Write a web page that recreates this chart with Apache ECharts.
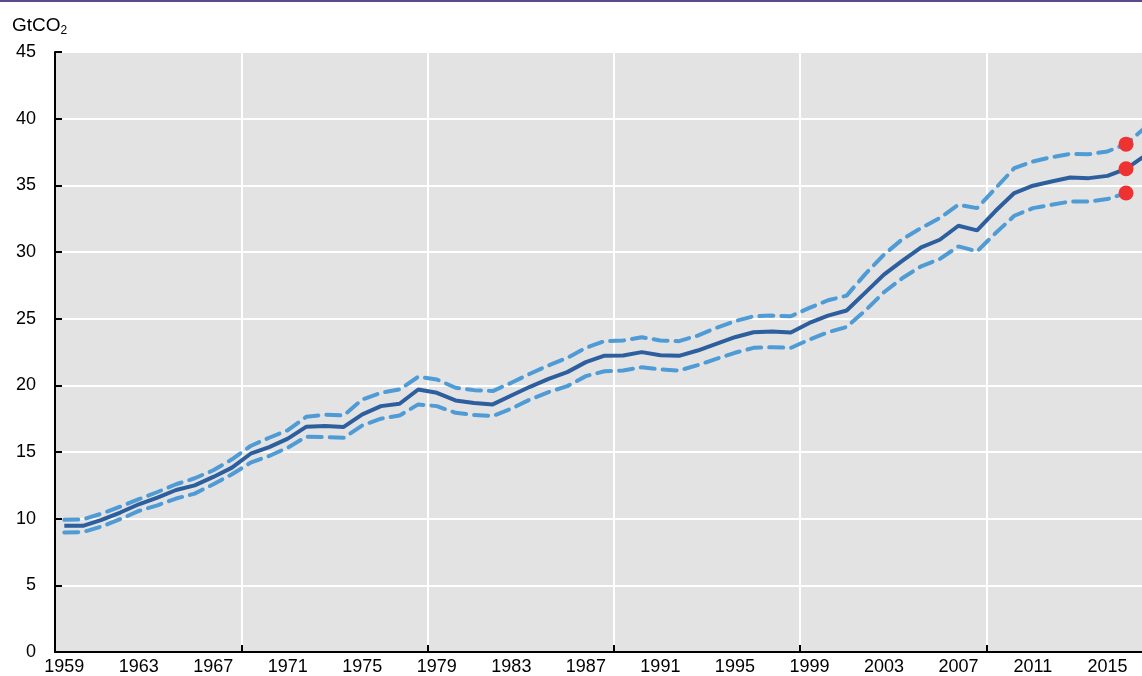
<!DOCTYPE html>
<html>
<head>
<meta charset="utf-8">
<script src="https://cdn.jsdelivr.net/npm/echarts@6/dist/echarts.min.js"></script>
<style>
html,body{margin:0;padding:0;background:#fff;overflow:hidden;width:1142px;height:676px;}
#chart{width:1160px;height:676px;}
</style>
</head>
<body>
<div id="chart"></div>
<script>
var years = [];
for (var y = 1959; y <= 2017; y++) years.push(String(y));

var central = [9.46, 9.46, 9.91, 10.46, 11.08, 11.58, 12.15, 12.5, 13.13, 13.83,
  14.87, 15.37, 16.0, 16.9, 16.95, 16.88, 17.82, 18.44, 18.62, 19.69,
  19.44, 18.87, 18.67, 18.57, 19.24, 19.89, 20.49, 20.99, 21.74, 22.22,
  22.24, 22.49, 22.26, 22.21, 22.61, 23.11, 23.61, 23.98, 24.03, 23.96,
  24.68, 25.23, 25.61, 26.95, 28.3, 29.35, 30.35, 30.92, 31.97, 31.62,
  33.09, 34.42, 34.97, 35.29, 35.59, 35.54, 35.71, 36.24, 37.21];

var upper = [9.91, 9.95, 10.38, 10.9, 11.46, 12.0, 12.58, 13.03, 13.63, 14.45,
  15.45, 16.07, 16.64, 17.65, 17.8, 17.74, 18.94, 19.44, 19.69, 20.64,
  20.44, 19.82, 19.64, 19.57, 20.19, 20.87, 21.49, 22.06, 22.81, 23.31,
  23.36, 23.61, 23.36, 23.31, 23.73, 24.31, 24.81, 25.18, 25.23, 25.18,
  25.81, 26.38, 26.73, 28.34, 29.8, 30.97, 31.8, 32.55, 33.54, 33.29,
  34.79, 36.29, 36.79, 37.11, 37.36, 37.34, 37.54, 38.09, 39.3];

var lower = [8.96, 9.0, 9.41, 9.96, 10.58, 11.0, 11.51, 11.88, 12.58, 13.33,
  14.2, 14.7, 15.33, 16.15, 16.12, 16.07, 17.0, 17.5, 17.74, 18.57,
  18.44, 17.94, 17.77, 17.7, 18.25, 18.94, 19.49, 19.94, 20.69, 21.06,
  21.11, 21.36, 21.19, 21.11, 21.51, 21.99, 22.44, 22.81, 22.86, 22.81,
  23.43, 23.98, 24.38, 25.6, 26.98, 28.05, 28.93, 29.48, 30.42, 30.05,
  31.42, 32.72, 33.29, 33.54, 33.79, 33.79, 33.97, 34.42, null];

var dotYear = '2016';
var dotValues = [38.09, 36.24, 34.42];

var yTicks = {min: 0, max: 45, interval: 5};
var unitMain = 'GtCO';
var unitSub = '2';

var chart = echarts.init(document.getElementById('chart'), null, {renderer: 'canvas'});
var FONT = '"Liberation Sans", Arial, sans-serif';

var option = {
  animation: false,
  backgroundColor: '#ffffff',
  grid: {
    left: 55, top: 52, bottom: 23, width: 1099,
    show: true, backgroundColor: '#e3e3e3', borderWidth: 0,
    containLabel: false
  },
  graphic: [
    {type: 'rect', left: 0, top: 0, shape: {width: 1160, height: 2}, style: {fill: '#5b4b8a'}, z: 100},
    {type: 'text', left: 12, top: 16, z: 100,
      style: {
        text: '{m|' + unitMain + '}{s|' + unitSub + '}',
        rich: {
          m: {fontFamily: FONT, fontSize: 19, fill: '#000'},
          s: {fontFamily: FONT, fontSize: 12, fill: '#000', padding: [11, 0, 0, 0]}
        }
      }
    }
  ],
  xAxis: {
    type: 'category',
    data: years,
    boundaryGap: true,
    axisLine: {show: true, lineStyle: {color: '#000', width: 2}},
    axisTick: {show: true, inside: true, length: 7, interval: 9, lineStyle: {color: '#000', width: 2}},
    axisLabel: {interval: 3, color: '#000', fontFamily: FONT, fontSize: 18, margin: 6},
    splitLine: {show: true, interval: 9, lineStyle: {color: '#ffffff', width: 2}}
  },
  yAxis: {
    type: 'value',
    min: yTicks.min, max: yTicks.max, interval: yTicks.interval,
    axisLine: {show: true, lineStyle: {color: '#000', width: 2}},
    axisTick: {show: true, inside: true, length: 7, lineStyle: {color: '#000', width: 2}},
    axisLabel: {color: '#000', fontFamily: FONT, fontSize: 18, margin: 19},
    splitLine: {show: true, lineStyle: {color: '#ffffff', width: 2}}
  },
  series: [
    {
      type: 'line', data: upper, symbol: 'none', connectNulls: false,
      lineStyle: {color: '#4e9bd6', width: 4, type: [14, 8], cap: 'round'}, z: 2
    },
    {
      type: 'line', data: lower, symbol: 'none', connectNulls: false,
      lineStyle: {color: '#4e9bd6', width: 4, type: [14, 8], cap: 'round'}, z: 2
    },
    {
      type: 'line', data: central, symbol: 'none',
      lineStyle: {color: '#2d5f9e', width: 4}, z: 3
    },
    {
      type: 'scatter',
      data: dotValues.map(function (v) { return [dotYear, v]; }),
      symbol: 'circle', symbolSize: 15,
      itemStyle: {color: '#ee3131', opacity: 1}, z: 5
    }
  ]
};
chart.setOption(option);
</script>
</body>
</html>
